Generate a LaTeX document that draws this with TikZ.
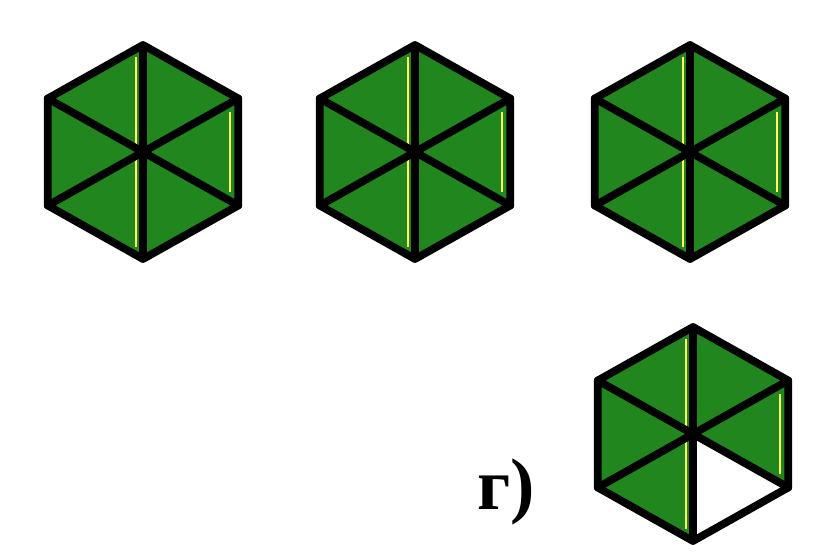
\documentclass[tikz,border=0pt]{standalone}
\usepackage{fontspec}
\setmainfont{Liberation Serif}
\definecolor{leaf}{RGB}{34,134,30}
\begin{document}
\begin{tikzpicture}[x=0.025cm,y=-0.025cm,
  edge/.style={line width=5.5pt,line join=round,line cap=round},
  glint/.style={yellow!60!white,line width=0.9pt}]
\useasboundingbox (0,0) rectangle (818,559);
\foreach \cx/\cy/\n in {143/152/1,415/152/2,690/152/3,693/434/4} {
\begin{scope}[shift={(\cx,\cy)}]
\fill[leaf] (90:110 and 107) -- (30:110 and 107) -- (-30:110 and 107) -- (-90:110 and 107) -- (-150:110 and 107) -- (150:110 and 107) -- cycle;
\ifnum\n=4 \fill[white] (0,0) -- (90:110 and 107) -- (30:110 and 107) -- cycle; \fi
\draw[glint] (-7,-95) -- (-7,95);
\draw[glint] (87,-40) -- (87,40);
\draw[edge] (90:110 and 107) -- (-90:110 and 107);
\draw[edge] (30:110 and 107) -- (-150:110 and 107);
\draw[edge] (-30:110 and 107) -- (150:110 and 107);
\draw[edge] (90:110 and 107) -- (30:110 and 107) -- (-30:110 and 107) -- (-90:110 and 107) -- (-150:110 and 107) -- (150:110 and 107) -- cycle;
\end{scope}
}
\node[font=\bfseries\fontsize{52}{52}\selectfont] (lab) at (506,492) {г)};
\end{tikzpicture}
\end{document}
